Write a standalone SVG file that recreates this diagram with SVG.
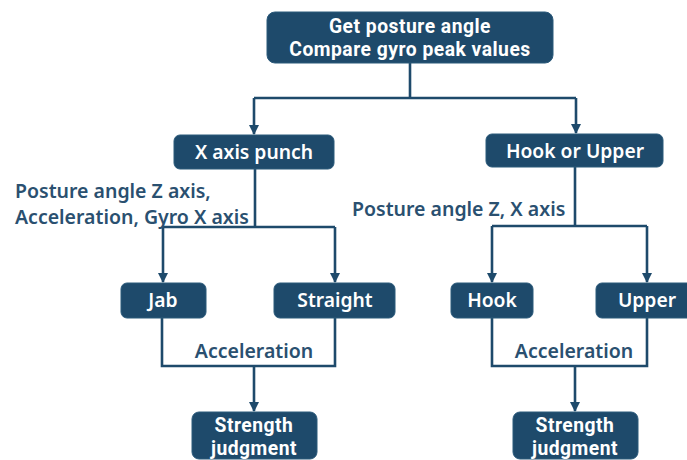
<svg xmlns="http://www.w3.org/2000/svg" width="687" height="460" viewBox="0 0 687 460">
<defs>
<style>
.box{fill:#1e4a6b;stroke:#2b5a7b;stroke-width:1}
.t{fill:#ffffff;font-family:"Noto Sans","Liberation Sans",sans-serif;font-weight:600;font-size:19.3px;text-anchor:middle}
.t2{fill:#ffffff;font-family:Roboto,"Liberation Sans",sans-serif;font-weight:700;font-size:19.3px;letter-spacing:0.5px;text-anchor:middle}
.lbl{fill:#2a5070;font-family:"Noto Sans","Liberation Sans",sans-serif;font-weight:600;font-size:19.5px}
.c{fill:none;stroke:#1e4a6b;stroke-width:2.6}
</style>
<marker id="ah" viewBox="0 0 10 10" refX="9" refY="5" markerWidth="4" markerHeight="4" orient="auto" markerUnits="strokeWidth">
<path d="M0,0 L10,5 L0,10 z" fill="#1e4a6b"/>
</marker>
</defs>
<rect width="687" height="460" fill="#ffffff"/>
<g id="connectors">
<path class="c" d="M410,63 V98"/>
<path class="c" d="M254,98 H576"/>
<path class="c" d="M254,98 V134" marker-end="url(#ah)"/>
<path class="c" d="M576,98 V133" marker-end="url(#ah)"/>
<path class="c" d="M255,169 V227"/>
<path class="c" d="M163,227 H335"/>
<path class="c" d="M163,227 V282" marker-end="url(#ah)"/>
<path class="c" d="M335,227 V282" marker-end="url(#ah)"/>
<path class="c" d="M575,167 V226"/>
<path class="c" d="M492,226 H647"/>
<path class="c" d="M492,226 V282" marker-end="url(#ah)"/>
<path class="c" d="M647,226 V282" marker-end="url(#ah)"/>
<path class="c" d="M162,318 V366 H335 V318"/>
<path class="c" d="M254,366 V411" marker-end="url(#ah)"/>
<path class="c" d="M492,318 V366 H647 V318"/>
<path class="c" d="M575,366 V411" marker-end="url(#ah)"/>
</g>
<g id="labels">
<text class="lbl" x="15" y="198">Posture angle Z axis,</text>
<text class="lbl" x="15" y="224">Acceleration, Gyro X axis</text>
<text class="lbl" x="352" y="216">Posture angle Z, X axis</text>
<text class="lbl" x="254" y="358" text-anchor="middle">Acceleration</text>
<text class="lbl" x="574" y="358" text-anchor="middle">Acceleration</text>
</g>
<g id="top">
<rect class="box" x="267" y="12" width="286" height="51" rx="8"/>
<text class="t2" x="410" y="33">Get posture angle</text>
<text class="t2" x="410" y="56">Compare gyro peak values</text>
</g>
<g id="xaxis">
<rect class="box" x="174" y="135" width="160" height="34" rx="6"/>
<text class="t" x="254" y="159">X axis punch</text>
</g>
<g id="hookupper">
<rect class="box" x="486" y="134" width="177" height="33" rx="6"/>
<text class="t" x="575" y="158">Hook or Upper</text>
</g>
<g id="jab">
<rect class="box" x="121" y="283" width="85" height="35" rx="6"/>
<text class="t" x="163" y="307">Jab</text>
</g>
<g id="straight">
<rect class="box" x="274" y="283" width="121" height="35" rx="6"/>
<text class="t" x="335" y="307">Straight</text>
</g>
<g id="hook">
<rect class="box" x="451" y="283" width="82" height="35" rx="6"/>
<text class="t" x="492" y="307">Hook</text>
</g>
<g id="upper">
<rect class="box" x="596" y="283" width="100" height="35" rx="6"/>
<text class="t" x="647" y="307">Upper</text>
</g>
<g id="strength1">
<rect class="box" x="192" y="412" width="125" height="47" rx="7"/>
<text class="t2" x="254" y="432">Strength</text>
<text class="t2" x="254" y="455">judgment</text>
</g>
<g id="strength2">
<rect class="box" x="513" y="412" width="125" height="47" rx="7"/>
<text class="t2" x="575" y="432">Strength</text>
<text class="t2" x="575" y="455">judgment</text>
</g>
</svg>
